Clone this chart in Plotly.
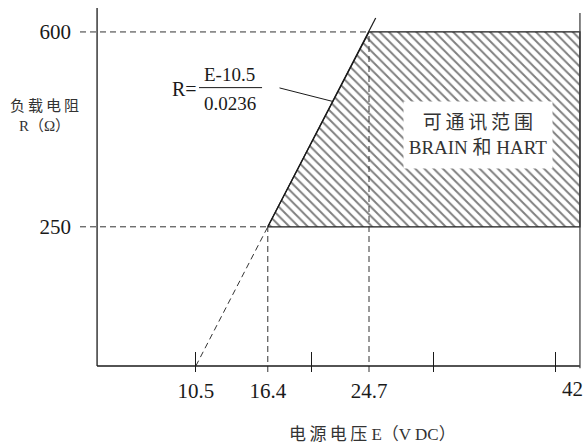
import plotly.graph_objects as go

# ---- data ----
supply_ticks = [10.5, 16.4, 24.7]              # labelled voltages (V DC)
supply_tick_text = ["10.5", "16.4", "24.7"]
supply_max = 42                                # right end of range (labelled separately)
minor_ticks = [10.5, 20, 30, 40]               # unlabelled tick marks
load_ticks = [250, 600]                        # labelled resistances (Ω)
load_tick_text = ["250", "600"]

# communication region (hatched)
region_E = [16.4, 24.7, 42, 42, 16.4]
region_R = [250, 600, 600, 250, 250]

# load line R = (E-10.5)/0.0236
dashed_E = [10.5, 16.4]
dashed_R = [0, 250]
solid_E = [16.4, 24.7, 25.25]
solid_R = [250, 600, 625]

# ---- layout constants ----
X_MIN, X_MAX = 1.0, 42.25
Y_MIN, Y_MAX = -10.8, 643
AXIS_X0 = 2.4
SERIF = "Liberation Serif, Times New Roman, Noto Sans CJK SC, serif"
INK = "#1a1a1a"

fig = go.Figure()

# hatched region
fig.add_trace(go.Scatter(
    x=region_E, y=region_R, mode="lines", fill="toself",
    fillpattern=dict(shape="\\", size=6.5, solidity=0.3, fgcolor="black", bgcolor="white"),
    fillcolor="white",
    line=dict(color=INK, width=1.3), hoverinfo="skip", showlegend=False))

dash_style = dict(color="#333", width=1, dash="6px,4px")
# guide lines
for e, r in zip([16.4, 24.7], [250, 600]):
    fig.add_trace(go.Scatter(x=[X_MIN, e], y=[r, r], mode="lines", line=dash_style,
                             hoverinfo="skip", showlegend=False))
    fig.add_trace(go.Scatter(x=[e, e], y=[Y_MIN, r], mode="lines", line=dash_style,
                             hoverinfo="skip", showlegend=False))

# load line
fig.add_trace(go.Scatter(x=dashed_E, y=dashed_R, mode="lines", line=dash_style,
                         hoverinfo="skip", showlegend=False))
fig.add_trace(go.Scatter(x=solid_E, y=solid_R, mode="lines", line=dict(color=INK, width=1.2),
                         hoverinfo="skip", showlegend=False))

# frame lines
fig.add_shape(type="line", xref="x", yref="y", x0=AXIS_X0, x1=AXIS_X0, y0=0, y1=Y_MAX,
              line=dict(color=INK, width=1.3))
fig.add_shape(type="line", xref="x", yref="y", x0=AXIS_X0, x1=supply_max, y0=0, y1=0,
              line=dict(color=INK, width=1.3))
fig.add_shape(type="line", xref="x", yref="y domain", x0=supply_max, x1=supply_max,
              y0=0.01, y1=0.986, line=dict(color="#444", width=1.3))

# label of the range end
fig.add_annotation(x=supply_max, y=Y_MIN, text=str(supply_max), showarrow=False,
                   xanchor="center", yanchor="top", xshift=-7, yshift=-3,
                   font=dict(family=SERIF, size=21, color=INK))

# formula
fig.add_annotation(x=9.53, y=497, text="R=", showarrow=False,
                   font=dict(family=SERIF, size=20, color=INK))
fig.add_annotation(x=13.3, y=524, text="E-10.5", showarrow=False,
                   font=dict(family=SERIF, size=19, color=INK))
fig.add_annotation(x=13.3, y=471, text="0.0236", showarrow=False,
                   font=dict(family=SERIF, size=19, color=INK))
fig.add_shape(type="line", xref="x", yref="y", x0=10.76, x1=15.93, y0=500, y1=500,
              line=dict(color=INK, width=1))
fig.add_annotation(x=21.75, y=475, text="", showarrow=True, arrowhead=0,
                   arrowwidth=1, arrowcolor=INK, ax=-55, ay=-14, standoff=0)

# region label
fig.add_annotation(x=33.64, y=415,
                   text="可\u2009通\u2009讯\u2009范\u2009围<br>BRAIN 和 HART",
                   showarrow=False, bgcolor="white", width=146, height=64,
                   font=dict(family=SERIF, size=19, color="#333"))

# axis titles
fig.add_annotation(xref="paper", yref="paper", x=-0.0696, y=0.702,
                   xanchor="center", yanchor="middle",
                   text="负\u2009载\u2009电\u2009阻<br>R（Ω）", showarrow=False,
                   font=dict(family=SERIF, size=15, color="#333"))
fig.add_annotation(xref="paper", yref="paper", x=0.582, y=-0.173,
                   xanchor="center", yanchor="middle",
                   text="电\u2009源\u2009电\u2009压 E（V DC）", showarrow=False,
                   font=dict(family=SERIF, size=17, color="#333"))

fig.update_layout(
    width=586, height=443,
    margin=dict(l=80, r=3, t=8, b=71, autoexpand=False),
    paper_bgcolor="white", plot_bgcolor="white",
    showlegend=False,
    xaxis=dict(range=[X_MIN, X_MAX], showgrid=False, zeroline=False, showline=False,
               automargin=False,
               tickvals=supply_ticks, ticktext=supply_tick_text, ticks="",
               ticklabelstandoff=4,
               tickfont=dict(family=SERIF, size=21, color=INK),
               minor=dict(tickvals=minor_ticks, ticks="inside", ticklen=20,
                          tickcolor=INK, tickwidth=1.3, showgrid=False),
               fixedrange=True),
    yaxis=dict(range=[Y_MIN, Y_MAX], showgrid=False, zeroline=False, showline=False,
               automargin=False,
               tickvals=load_ticks, ticktext=load_tick_text, ticks="",
               ticklabelstandoff=8,
               tickfont=dict(family=SERIF, size=21, color=INK),
               fixedrange=True),
)

fig.write_html("out.html",
               config={"displayModeBar": False},
               post_script="document.body.style.margin='0px';"
                           "document.documentElement.style.overflow='hidden';")
